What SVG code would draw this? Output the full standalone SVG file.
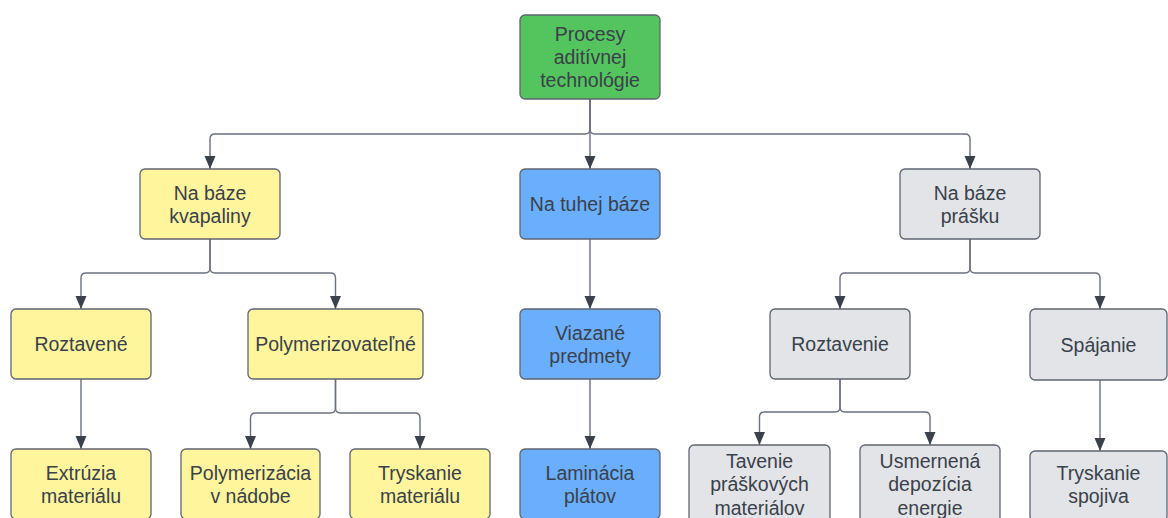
<svg xmlns="http://www.w3.org/2000/svg" width="1168" height="518" viewBox="0 0 1168 518">
  <style>
    .box { stroke: #5f6470; stroke-width: 1.3; }
    .green { fill: #54c45e; }
    .yellow { fill: #fff59d; }
    .blue { fill: #6aaefe; }
    .gray { fill: #e2e4e8; }
    .lbl { font-family: "Liberation Sans", Arial, sans-serif; font-size: 19.5px; fill: #3a414a; text-anchor: middle; dominant-baseline: central; }
    .edge { fill: none; stroke: #6b7080; stroke-width: 1.4; marker-end: url(#arr); }
  </style>
  <defs>
    <marker id="arr" markerWidth="14" markerHeight="14" refX="13" refY="6" orient="auto" markerUnits="userSpaceOnUse" viewBox="0 0 14 12">
      <path d="M0,0.5 L13,6 L0,11.5 Z" fill="#3a414a"/>
    </marker>
  </defs>
  <rect width="1168" height="518" fill="#ffffff"/>

  <g id="connectors">
    <path class="edge" d="M590,99 V129 Q590,134 585,134 H215 Q210,134 210,139 V169"/>
    <path class="edge" d="M590,99 V169"/>
    <path class="edge" d="M590,99 V129 Q590,134 595,134 H965 Q970,134 970,139 V169"/>
    <path class="edge" d="M210,239 V268 Q210,273 205,273 H86 Q81,273 81,278 V309"/>
    <path class="edge" d="M210,239 V268 Q210,273 215,273 H330.5 Q335.5,273 335.5,278 V309"/>
    <path class="edge" d="M81,379 V449"/>
    <path class="edge" d="M335.5,379 V408 Q335.5,413 330.5,413 H255.5 Q250.5,413 250.5,418 V449"/>
    <path class="edge" d="M335.5,379 V408 Q335.5,413 340.5,413 H415 Q420,413 420,418 V449"/>
    <path class="edge" d="M590,239 V309"/>
    <path class="edge" d="M590,379 V449"/>
    <path class="edge" d="M970,239 V268 Q970,273 965,273 H845 Q840,273 840,278 V309"/>
    <path class="edge" d="M970,239 V268 Q970,273 975,273 H1095 Q1100,273 1100,278 V309"/>
    <path class="edge" d="M840,379 V407 Q840,412 835,412 H764.5 Q759.5,412 759.5,417 V445"/>
    <path class="edge" d="M840,379 V407 Q840,412 845,412 H925 Q930,412 930,417 V445"/>
    <path class="edge" d="M1100,380 V451"/>
  </g>

  <g id="n-root">
    <rect class="box green" x="520" y="15" width="140" height="84" rx="5"/>
    <text class="lbl" x="590" y="34">Procesy</text>
    <text class="lbl" x="590" y="57">aditívnej</text>
    <text class="lbl" x="590" y="80">technológie</text>
  </g>
  <g id="n-kvapalina">
    <rect class="box yellow" x="140" y="169" width="140" height="70" rx="5"/>
    <text class="lbl" x="210" y="192.5">Na báze</text>
    <text class="lbl" x="210" y="215.5">kvapaliny</text>
  </g>
  <g id="n-tuha">
    <rect class="box blue" x="520" y="169" width="140" height="70" rx="5"/>
    <text class="lbl" x="590" y="204">Na tuhej báze</text>
  </g>
  <g id="n-prasok">
    <rect class="box gray" x="900" y="169" width="140" height="70" rx="5"/>
    <text class="lbl" x="970" y="192.5">Na báze</text>
    <text class="lbl" x="970" y="215.5">prášku</text>
  </g>
  <g id="n-roztavene">
    <rect class="box yellow" x="11" y="309" width="140" height="70" rx="5"/>
    <text class="lbl" x="81" y="344">Roztavené</text>
  </g>
  <g id="n-polymerizovatelne">
    <rect class="box yellow" x="248" y="309" width="175" height="70" rx="5"/>
    <text class="lbl" x="335.5" y="344">Polymerizovateľné</text>
  </g>
  <g id="n-viazane">
    <rect class="box blue" x="520" y="309" width="140" height="70" rx="5"/>
    <text class="lbl" x="590" y="332.5">Viazané</text>
    <text class="lbl" x="590" y="355.5">predmety</text>
  </g>
  <g id="n-roztavenie">
    <rect class="box gray" x="770" y="309" width="140" height="70" rx="5"/>
    <text class="lbl" x="840" y="344">Roztavenie</text>
  </g>
  <g id="n-spajanie">
    <rect class="box gray" x="1030" y="309" width="137" height="71" rx="5"/>
    <text class="lbl" x="1098.5" y="344.5">Spájanie</text>
  </g>
  <g id="n-extruzia">
    <rect class="box yellow" x="11" y="449" width="140" height="70" rx="5"/>
    <text class="lbl" x="81" y="472.5">Extrúzia</text>
    <text class="lbl" x="81" y="495.5">materiálu</text>
  </g>
  <g id="n-polymerizacia">
    <rect class="box yellow" x="181" y="449" width="139" height="70" rx="5"/>
    <text class="lbl" x="250.5" y="472.5">Polymerizácia</text>
    <text class="lbl" x="250.5" y="495.5">v nádobe</text>
  </g>
  <g id="n-tryskanie-mat">
    <rect class="box yellow" x="350" y="449" width="140" height="70" rx="5"/>
    <text class="lbl" x="420" y="472.5">Tryskanie</text>
    <text class="lbl" x="420" y="495.5">materiálu</text>
  </g>
  <g id="n-laminacia">
    <rect class="box blue" x="520" y="449" width="140" height="70" rx="5"/>
    <text class="lbl" x="590" y="472.5">Laminácia</text>
    <text class="lbl" x="590" y="495.5">plátov</text>
  </g>
  <g id="n-tavenie">
    <rect class="box gray" x="689" y="445" width="141" height="80" rx="5"/>
    <text class="lbl" x="759.5" y="460.5">Tavenie</text>
    <text class="lbl" x="759.5" y="484">práškových</text>
    <text class="lbl" x="759.5" y="507.5">materiálov</text>
  </g>
  <g id="n-usmernena">
    <rect class="box gray" x="860" y="445" width="140" height="80" rx="5"/>
    <text class="lbl" x="930" y="460.5">Usmernená</text>
    <text class="lbl" x="930" y="484">depozícia</text>
    <text class="lbl" x="930" y="507.5">energie</text>
  </g>
  <g id="n-tryskanie-spoj">
    <rect class="box gray" x="1030" y="451" width="137" height="70" rx="5"/>
    <text class="lbl" x="1098.5" y="472.5">Tryskanie</text>
    <text class="lbl" x="1098.5" y="495.5">spojiva</text>
  </g>
</svg>
